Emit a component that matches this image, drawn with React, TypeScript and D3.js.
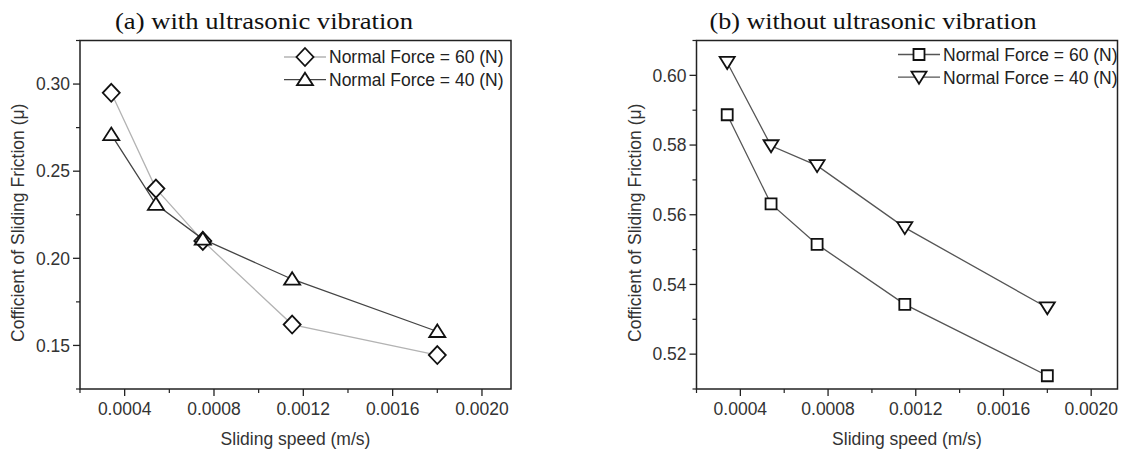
import React from "react";
import * as d3 from "d3";

const speeds = [0.00034, 0.00054, 0.00075, 0.00115, 0.0018];
const withVib60 = [0.295, 0.24, 0.21, 0.162, 0.1445];
const withVib40 = [0.271, 0.231, 0.211, 0.188, 0.158];
const withoutVib60 = [0.5887, 0.5631, 0.5515, 0.5343, 0.5138];
const withoutVib40 = [0.6037, 0.5798, 0.5741, 0.5563, 0.5333];
const xTicks = [0.0004, 0.0008, 0.0012, 0.0016, 0.002];
const leftYTicks = [0.15, 0.2, 0.25, 0.3];
const rightYTicks = [0.52, 0.54, 0.56, 0.58, 0.6];
const legendLabels = ["Normal Force = 60 (N)", "Normal Force = 40 (N)"];

const sans = "'Liberation Sans', Arial, sans-serif";
const serif = "'Liberation Serif', 'Times New Roman', serif";
const fs = 17.5;

type Shape = "diamond" | "triUp" | "square" | "triDown";

const markerPath = (shape: Shape) => {
  switch (shape) {
    case "diamond":
      return "M0,-9L8.5,0L0,9L-8.5,0Z";
    case "triUp":
      return "M0,-7L8,5.5L-8,5.5Z";
    case "square":
      return "M-5.5,-5.5H5.5V5.5H-5.5Z";
    case "triDown":
      return "M-7.5,-5.5H7.5L0,6.5Z";
  }
};

type Series = { values: number[]; shape: Shape; color: string; label: string };

type PanelProps = {
  title: string;
  titleX: number;
  titleWidth: number;
  left: number;
  right: number;
  yDomain: [number, number];
  xMax: number;
  yTicks: number[];
  yMinorStep: number;
  series: Series[];
  legendX: number;
  legendY: number;
};

const top = 40.5;
const bottom = 389;

function minorTicks(ticks: number[], step: number, domain: [number, number]) {
  const out: number[] = [];
  [ticks[0] - step * 2, ...ticks].forEach((t) => {
    const m = t + step;
    if (m >= domain[0] - 1e-9 && m <= domain[1] + 1e-9 && !ticks.some((k) => Math.abs(k - m) < 1e-9)) out.push(m);
  });
  return out;
}

const Panel = (p: PanelProps) => {
  const x = d3.scaleLinear().domain([0.0002, p.xMax]).range([p.left, p.right]);
  const y = d3.scaleLinear().domain(p.yDomain).range([bottom, top]);
  const fy = d3.format(".2f");
  const fx = d3.format(".4f");
  const xMinor = d3.range(0.0002, p.xMax, 0.0004);
  const yMinor = minorTicks(p.yTicks, p.yMinorStep, p.yDomain);
  const line = d3
    .line<number>()
    .x((_, i) => x(speeds[i]))
    .y((d) => y(d));
  const mid = (p.left + p.right) / 2;

  return (
    <g>
      <text
        x={p.titleX}
        y={29}
        textAnchor="middle"
        fontFamily={serif}
        fontSize={23}
        textLength={p.titleWidth}
        lengthAdjust="spacingAndGlyphs"
        fill="#111"
      >
        {p.title}
      </text>
      <rect
        x={p.left}
        y={top}
        width={p.right - p.left}
        height={bottom - top}
        fill="none"
        stroke="#222"
        strokeWidth={1.5}
      />
      {p.yTicks.map((t) => (
        <g key={"y" + t}>
          <line x1={p.left - 7} x2={p.left} y1={y(t)} y2={y(t)} stroke="#222" strokeWidth={1.3} />
          <text x={p.left - 10} y={y(t) + 6.3} textAnchor="end" fontFamily={sans} fontSize={fs} fill="#333">
            {fy(t)}
          </text>
        </g>
      ))}
      {yMinor.map((t) => (
        <line key={"ym" + t} x1={p.left - 4} x2={p.left} y1={y(t)} y2={y(t)} stroke="#222" strokeWidth={1.2} />
      ))}
      {xTicks.map((t) => (
        <g key={"x" + t}>
          <line x1={x(t)} x2={x(t)} y1={bottom} y2={bottom + 7} stroke="#222" strokeWidth={1.3} />
          <text x={x(t)} y={414.5} textAnchor="middle" fontFamily={sans} fontSize={fs} fill="#333">
            {fx(t)}
          </text>
        </g>
      ))}
      {xMinor.map((t) => (
        <line key={"xm" + t} x1={x(t)} x2={x(t)} y1={bottom} y2={bottom + 4} stroke="#222" strokeWidth={1.2} />
      ))}
      <text x={mid} y={444.5} textAnchor="middle" fontFamily={sans} fontSize={fs} fill="#333">
        Sliding speed (m/s)
      </text>
      <text
        transform={`translate(${p.left - 56},${(top + bottom) / 2 + 8}) rotate(-90)`}
        textAnchor="middle"
        fontFamily={sans}
        fontSize={fs}
        fill="#333"
      >
        Cofficient of Sliding Friction (μ)
      </text>
      {p.series.map((s) => (
        <path key={s.label + s.shape} d={line(s.values) ?? ""} fill="none" stroke={s.color} strokeWidth={1.3} />
      ))}
      {p.series.map((s) =>
        s.values.map((v, i) => (
          <path
            key={s.shape + i}
            d={markerPath(s.shape)}
            transform={`translate(${x(speeds[i])},${y(v)})`}
            fill="#fff"
            stroke="#111"
            strokeWidth={1.8}
          />
        ))
      )}
      {p.series.map((s, i) => {
        const ly = p.legendY + i * 22.7;
        return (
          <g key={"lg" + i}>
            <line x1={p.legendX - 21} x2={p.legendX + 21} y1={ly} y2={ly} stroke={s.color} strokeWidth={1.3} />
            <path
              d={markerPath(s.shape)}
              transform={`translate(${p.legendX},${ly})`}
              fill="#fff"
              stroke="#111"
              strokeWidth={1.8}
            />
            <text x={p.legendX + 24} y={ly + 6.3} fontFamily={sans} fontSize={fs} fill="#222">
              {s.label}
            </text>
          </g>
        );
      })}
    </g>
  );
};

export default function App() {
  return (
    <svg width={1131} height={450} style={{ position: "absolute", left: 0, top: 0, background: "#fff" }}>
      <Panel
        title="(a) with ultrasonic vibration"
        titleX={264}
        titleWidth={298}
        left={80}
        right={511}
        yDomain={[0.125, 0.325]}
        xMax={0.00213}
        yTicks={leftYTicks}
        yMinorStep={0.025}
        series={[
          { values: withVib60, shape: "diamond", color: "#b3b3b3", label: legendLabels[0] },
          { values: withVib40, shape: "triUp", color: "#444", label: legendLabels[1] },
        ]}
        legendX={305}
        legendY={57}
      />
      <Panel
        title="(b) without ultrasonic vibration"
        titleX={873}
        titleWidth={327}
        left={696.5}
        right={1117.5}
        yDomain={[0.51, 0.61]}
        xMax={0.00212}
        yTicks={rightYTicks}
        yMinorStep={0.01}
        series={[
          { values: withoutVib60, shape: "square", color: "#555", label: legendLabels[0] },
          { values: withoutVib40, shape: "triDown", color: "#555", label: legendLabels[1] },
        ]}
        legendX={919}
        legendY={54.5}
      />
    </svg>
  );
}
